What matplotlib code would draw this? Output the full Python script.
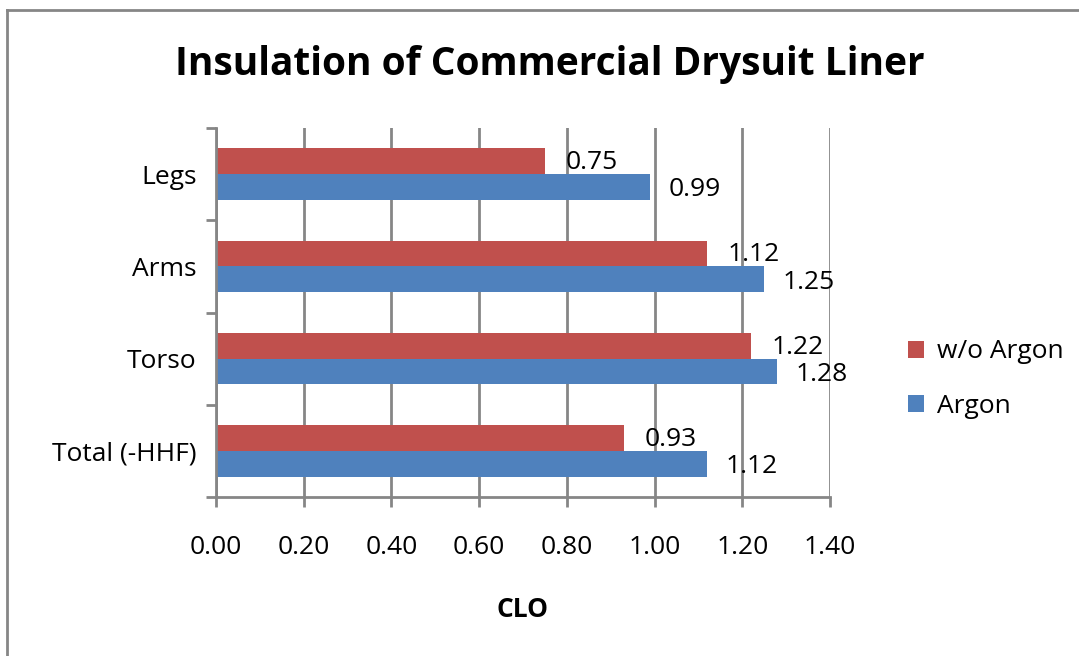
import matplotlib
matplotlib.use("Agg")
import matplotlib.pyplot as plt
import numpy as np
from matplotlib.lines import Line2D

categories = ["Total (-HHF)", "Torso", "Arms", "Legs"]
argon = [1.12, 1.28, 1.25, 0.99]
wo_argon = [0.93, 1.22, 1.12, 0.75]
x_ticks = [0.0, 0.2, 0.4, 0.6, 0.8, 1.0, 1.2, 1.4]

red = "#C0504D"
blue = "#4F81BD"
grid = "#868686"
fs = 19

plt.rcParams["font.family"] = ["Open Sans", "DejaVu Sans"]

fig = plt.figure(figsize=(10.79, 6.56), dpi=100)
ax = fig.add_axes([216 / 1079, 1 - 497 / 656, 614 / 1079, 369 / 656])

y = np.arange(len(categories))
h = 0.28
ax.barh(y - h / 2, argon, height=h, color=blue, label="Argon")
ax.barh(y + h / 2, wo_argon, height=h, color=red, label="w/o Argon")

# value labels next to the bar ends
for yi, v in zip(y, argon):
    ax.annotate(f"{v:.2f}", (v, yi - h / 2), xytext=(13, -2), textcoords="offset points",
                va="center", ha="left", fontsize=fs)
for yi, v in zip(y, wo_argon):
    ax.annotate(f"{v:.2f}", (v, yi + h / 2), xytext=(15, -1), textcoords="offset points",
                va="center", ha="left", fontsize=fs)

ax.set_xlim(0, 1.4)
ax.set_ylim(-0.5, len(categories) - 0.5)
ax.set_xticks(x_ticks)
ax.set_xticklabels([f"{t:.2f}" for t in x_ticks], fontsize=fs)
ax.set_yticks(y)
ax.set_yticklabels(categories, fontsize=fs)
ax.set_yticks(np.arange(len(categories) + 1) - 0.5, minor=True)
ax.tick_params(axis="y", which="major", length=0, pad=14)
ax.tick_params(axis="y", which="minor", length=7, width=2, color=grid, direction="out")
ax.tick_params(axis="x", length=7, width=2, color=grid, direction="out", pad=20)
ax.xaxis.grid(True, color=grid, linewidth=2)
ax.set_axisbelow(True)
for s in ["top", "right"]:
    ax.spines[s].set_visible(False)
for s in ["left", "bottom"]:
    ax.spines[s].set_color(grid)
    ax.spines[s].set_linewidth(2)

ax.set_xlabel("CLO", fontsize=fs, fontweight="bold", labelpad=26)

fig.text(550 / 1079, 1 - 64 / 656, "Insulation of Commercial Drysuit Liner", ha="center", va="center",
         fontsize=28, fontweight="bold")

handles, labels = ax.get_legend_handles_labels()
fig.legend(handles[::-1], labels[::-1], loc="center left", bbox_to_anchor=(884 / 1079, 1 - 379 / 656),
           frameon=False, fontsize=fs, handlelength=0.6, handleheight=0.6, handletextpad=0.5,
           labelspacing=1.1)

# chart-area border (left and top edges visible)
fig.add_artist(Line2D([7 / 1079, 7 / 1079], [0, 1 - 10 / 656], color=grid, linewidth=2))
fig.add_artist(Line2D([7 / 1079, 1], [1 - 10 / 656, 1 - 10 / 656], color=grid, linewidth=2))

fig.savefig("out.png", dpi=100)
